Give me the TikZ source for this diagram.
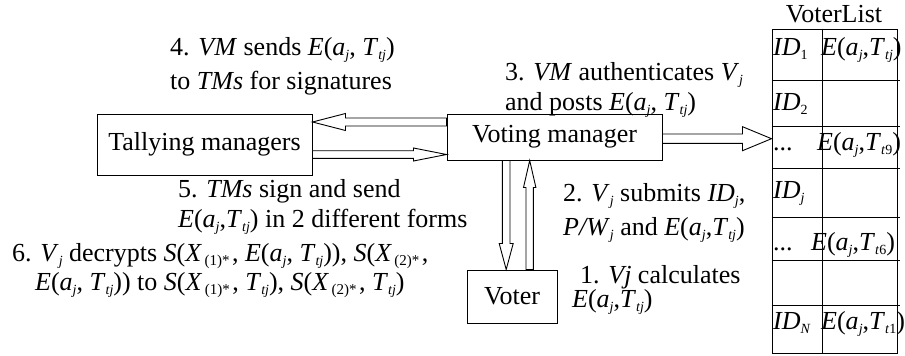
\documentclass[tikz,border=0pt]{standalone}
\usepackage{fontspec}
\setmainfont{Liberation Serif}
\usetikzlibrary{calc}
\newcommand{\sbs}[1]{\raisebox{-4.5pt}{\fontsize{14}{14}\selectfont #1}}
\newcommand{\isb}[1]{\sbs{\itshape #1}}
\newcommand{\xsb}[1]{\raisebox{-4.5pt}{\fontsize{15}{15}\selectfont\,#1\,}}
\newcommand{\Eaj}{\textit{E}(\textit{a}\isb{j}, \textit{T}\isb{tj})}
\newcommand{\Eajn}{\textit{E}(\textit{a}\isb{j},\textit{T}\isb{tj})}
\newcommand{\Eat}[1]{\textit{E}(\textit{a}\isb{j},\textit{T}\sbs{\textit{t}#1})}
\newcommand{\blockarrow}[5]{%
  \coordinate (ba-b) at ($(#2)!#5!(#1)$);
  \draw[barrow] ($(#1)!#3!90:(#2)$) -- ($(ba-b)!#3!90:(#2)$) -- ($(ba-b)!#4!90:(#2)$)
    -- (#2) -- ($(ba-b)!#4!-90:(#2)$) -- ($(ba-b)!#3!-90:(#2)$) -- ($(#1)!#3!-90:(#2)$) -- cycle;}
\begin{document}
\begin{tikzpicture}[x=1pt,y=-1pt,
  every node/.style={font=\fontsize{26}{31}\selectfont},
  box/.style={draw, line width=1pt, inner sep=0pt},
  lbl/.style={anchor=base west, inner sep=0pt},
  barrow/.style={draw, fill=white, line width=0.9pt, line join=miter},
  grid/.style={line width=1pt}]
\useasboundingbox (0,0) rectangle (905,356);

% boxes
\node[box, minimum width=215pt, minimum height=61pt] (tm) at (204.5,144.5) {Tallying managers};
\node[box, minimum width=215pt, minimum height=46pt] (vm) at (554.5,137) {Voting manager};
\node[box, minimum width=90pt, minimum height=53pt] (voter) at (512,296.5) {Voter};

% voter list table
\node[box, minimum width=125pt, minimum height=324pt] (vl) at (834.5,191) {};
\node[anchor=base, inner sep=0pt] (vlt) at (834,22) {VoterList};
\draw[grid] (vl.north -| 822,0) -- (vl.south -| 822,0);
\foreach \yy in {80,126,168,217,260,305}
  \draw[grid] (vl.west |- 0,\yy) -- (900,\yy);

\node[lbl] (r1a) at (773,55) {\textit{ID}\sbs{1}};
\node[lbl] (r1b) at (821,55) {\Eajn};
\node[lbl] (r2a) at (773,110) {\textit{ID}\sbs{2}};
\node[lbl] (r3a) at (773,150) {...};
\node[lbl] (r3b) at (817,150) {\Eat{9}};
\node[lbl] (r4a) at (773,198) {\textit{ID}\isb{j}};
\node[lbl] (r5a) at (773,250) {...};
\node[lbl] (r5b) at (811,250) {\Eat{6}};
\node[lbl] (r7a) at (773,329) {\textit{ID}\isb{N}};
\node[lbl] (r7b) at (821,329) {\Eat{1}};

% block arrows
\coordinate (a4s) at (vm.west |- 0,122);
\coordinate (a4e) at (tm.east |- 0,122);
\blockarrow{a4s}{a4e}{4pt}{8.5pt}{33pt}
\coordinate (a5s) at (tm.east |- 0,154.5);
\coordinate (a5e) at (vm.west |- 0,154.5);
\blockarrow{a5s}{a5e}{3.8pt}{6.5pt}{33pt}
\coordinate (a3s) at (vm.east |- 0,138.7);
\coordinate (a3e) at (vl.west |- 0,138.7);
\blockarrow{a3s}{a3e}{4.7pt}{12pt}{29pt}
\coordinate (a2s) at (vm.south -| 506.2,0);
\coordinate (a2e) at (voter.north -| 506.2,0);
\blockarrow{a2s}{a2e}{3.8pt}{7pt}{26pt}
\coordinate (a1s) at (voter.north -| 529.7,0);
\coordinate (a1e) at (vm.south -| 529.7,0);
\blockarrow{a1s}{a1e}{3.7pt}{6.2pt}{27pt}

% labels
\node[lbl] (l4a) at (170,55) {4. \textit{VM} sends \Eaj};
\node[lbl] (l4b) at (170,89) {to \textit{TMs} for signatures};
\node[lbl] (l3a) at (505,80) {3. \textit{VM} authenticates \textit{V}\isb{j}};
\node[lbl] (l3b) at (505,110) {and posts \Eaj};
\node[lbl] (l5a) at (178,197) {5. \textit{TMs} sign and send};
\node[lbl] (l5b) at (178,227) {\Eajn\ in 2 different forms};
\node[lbl] (l6a) at (12,261) {6. \textit{V}\isb{j} decrypts \textit{S}(\textit{X}\xsb{(1)*}, \Eaj), \textit{S}(\textit{X}\xsb{(2)*},};
\node[lbl] (l6b) at (35,290) {\Eaj) to \textit{S}(\textit{X}\xsb{(1)*}, \textit{T}\isb{tj}), \textit{S}(\textit{X}\xsb{(2)*}, \textit{T}\isb{tj})};
\node[lbl] (l2a) at (563,201) {2. \textit{V}\isb{j} submits \textit{ID}\isb{j},};
\node[lbl] (l2b) at (563,235) {\textit{P/W}\isb{j} and \Eajn};
\node[lbl] (l1a) at (580,283) {1. \textit{Vj} calculates};
\node[lbl] (l1b) at (572,307) {\Eajn};
\end{tikzpicture}
\end{document}
